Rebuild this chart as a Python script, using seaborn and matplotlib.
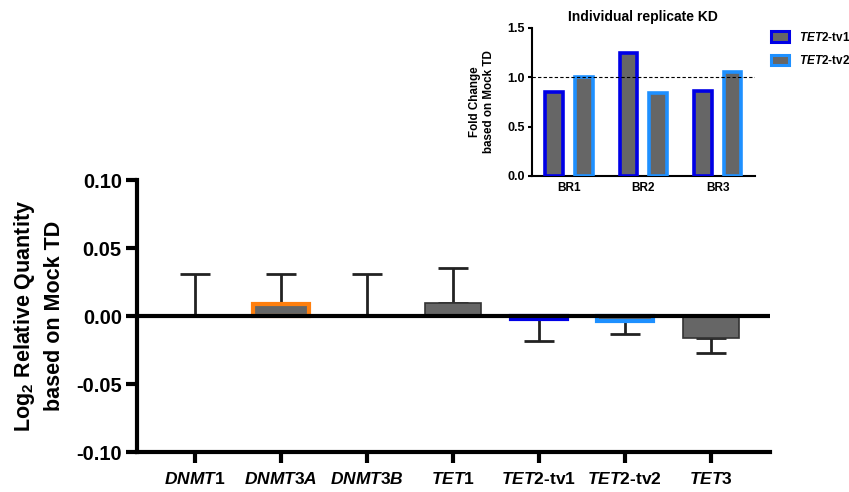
import matplotlib
matplotlib.use("Agg")
import matplotlib.pyplot as plt
import seaborn as sns
import pandas as pd
from matplotlib.patches import Patch

# ---------------- data ----------------
genes = ["DNMT1", "DNMT3A", "DNMT3B", "TET1", "TET2-tv1", "TET2-tv2", "TET3"]
gene_labels = [r"$\mathit{DNMT1}$", r"$\mathit{DNMT3A}$", r"$\mathit{DNMT3B}$",
               r"$\mathit{TET1}$", r"$\mathit{TET2}$-tv1", r"$\mathit{TET2}$-tv2",
               r"$\mathit{TET3}$"]
log2_rq = [0.001, 0.009, 0.001, 0.0093, -0.002, -0.0035, -0.0164]
log2_err = [0.030, 0.022, 0.030, 0.026, 0.016, 0.0095, 0.0106]
edge_cols = ["#333333", "#FF7F0E", "#333333", "#333333", "#0000E6", "#1E90FF", "#333333"]

replicates = ["BR1", "BR2", "BR3"]
tv1_fc = [0.853, 1.24, 0.863]
tv2_fc = [1.005, 0.836, 1.05]
variant_names = [r"$\mathit{TET2}$-tv1", r"$\mathit{TET2}$-tv2"]
variant_cols = ["#0000E6", "#1E90FF"]

# ---------------- style ----------------
sns.set_theme(style="white")
plt.rcParams["font.family"] = ["Liberation Sans", "DejaVu Sans"]
plt.rcParams["font.weight"] = "bold"
plt.rcParams["mathtext.fontset"] = "custom"
plt.rcParams["mathtext.it"] = "Liberation Sans:italic:bold"
plt.rcParams["mathtext.rm"] = "Liberation Sans:bold"
plt.rcParams["mathtext.bf"] = "Liberation Sans:bold"
for k in ["text.color", "axes.labelcolor", "xtick.color", "ytick.color"]:
    plt.rcParams[k] = "black"

fig = plt.figure(figsize=(8.49, 4.92), dpi=100)

# ---------------- main axes ----------------
ax = fig.add_axes([0.1614, 0.0813, 0.907 - 0.1614, 0.634 - 0.0813])
df = pd.DataFrame({"gene": genes, "val": log2_rq})
sns.barplot(data=df, x="gene", y="val", color="#666666", width=0.65,
            errorbar=None, ax=ax, saturation=1, zorder=3)
for p, ec in zip(ax.patches, edge_cols):
    p.set_edgecolor(ec)
    p.set_linewidth(1.2 if ec == "#333333" else 3.0)

lower = [e if v < 0 else 0 for v, e in zip(log2_rq, log2_err)]
upper = [e if v >= 0 else 0 for v, e in zip(log2_rq, log2_err)]
ax.errorbar(range(len(genes)), log2_rq, yerr=[lower, upper], fmt="none",
            ecolor="#222222", elinewidth=2, capsize=11, capthick=2, zorder=2)

ax.axhline(0, color="black", lw=3, zorder=4)
ax.set_xlim(-0.674, 6.69)
ax.set_ylim(-0.10, 0.10)
ax.set_yticks([-0.10, -0.05, 0.00, 0.05, 0.10])
ax.set_yticklabels(["-0.10", "-0.05", "0.00", "0.05", "0.10"], fontsize=14.5, fontweight="bold")
ax.set_xticks(range(len(genes)))
ax.set_xticklabels(gene_labels, fontsize=12.5)
ax.set_xlabel("")
ax.set_ylabel("Log$_2$ Relative Quantity\nbased on Mock TD", fontsize=15.5,
              fontweight="bold", linespacing=1.45)
ax.yaxis.set_label_coords(-0.113, 0.5)
for s in ["top", "right"]:
    ax.spines[s].set_visible(False)
for s in ["left", "bottom"]:
    ax.spines[s].set_linewidth(3)
    ax.spines[s].set_color("black")
ax.tick_params(axis="y", direction="out", length=8, width=3, color="black",
               left=True, pad=3)
ax.tick_params(axis="x", direction="out", length=8, width=3, color="black",
               bottom=True, pad=6)

# ---------------- inset ----------------
ax2 = fig.add_axes([0.6266, 0.6423, 0.889 - 0.6266, 0.9437 - 0.6423])
df2 = pd.DataFrame({
    "rep": replicates * 2,
    "fc": tv1_fc + tv2_fc,
    "variant": ["tv1"] * 3 + ["tv2"] * 3,
})
sns.barplot(data=df2, x="rep", y="fc", hue="variant", width=0.8, gap=0.4,
            palette=["#666666", "#666666"], errorbar=None, ax=ax2, saturation=1,
            legend=False, zorder=3)
for i, p in enumerate([p for p in ax2.patches if p.get_width() > 0][:6]):
    p.set_edgecolor(variant_cols[i // 3])
    p.set_linewidth(2.6)
ax2.axhline(1.0, color="black", lw=0.8, ls=(0, (3, 2)), zorder=4)
ax2.set_xlim(-0.5, 2.5)
ax2.set_ylim(0, 1.5)
ax2.set_yticks([0, 0.5, 1.0, 1.5])
ax2.set_yticklabels(["0.0", "0.5", "1.0", "1.5"], fontsize=9, fontweight="bold")
ax2.set_xticks(range(3))
ax2.set_xticklabels(replicates, fontsize=8.5, fontweight="bold")
ax2.set_xlabel("")
ax2.set_ylabel("Fold Change\nbased on Mock TD", fontsize=8.4, fontweight="bold")
ax2.yaxis.set_label_coords(-0.166, 0.5)
ax2.set_title("Individual replicate KD", fontsize=10, fontweight="bold", pad=5)
for s in ["top", "right"]:
    ax2.spines[s].set_visible(False)
for s in ["left", "bottom"]:
    ax2.spines[s].set_linewidth(1.5)
    ax2.spines[s].set_color("black")
ax2.tick_params(axis="y", direction="out", length=3, width=1.5, color="black", left=True, pad=2)
ax2.tick_params(axis="x", length=0, pad=4)

handles = [Patch(facecolor="#666666", edgecolor=c, linewidth=2.2) for c in variant_cols]
fig.legend(handles, variant_names, loc="upper left", bbox_to_anchor=(0.903, 0.947),
           frameon=False, fontsize=8.5, handlelength=1.5, handleheight=1.0,
           labelspacing=0.85, handletextpad=0.8, borderaxespad=0)

fig.savefig("out.png", dpi=100)
